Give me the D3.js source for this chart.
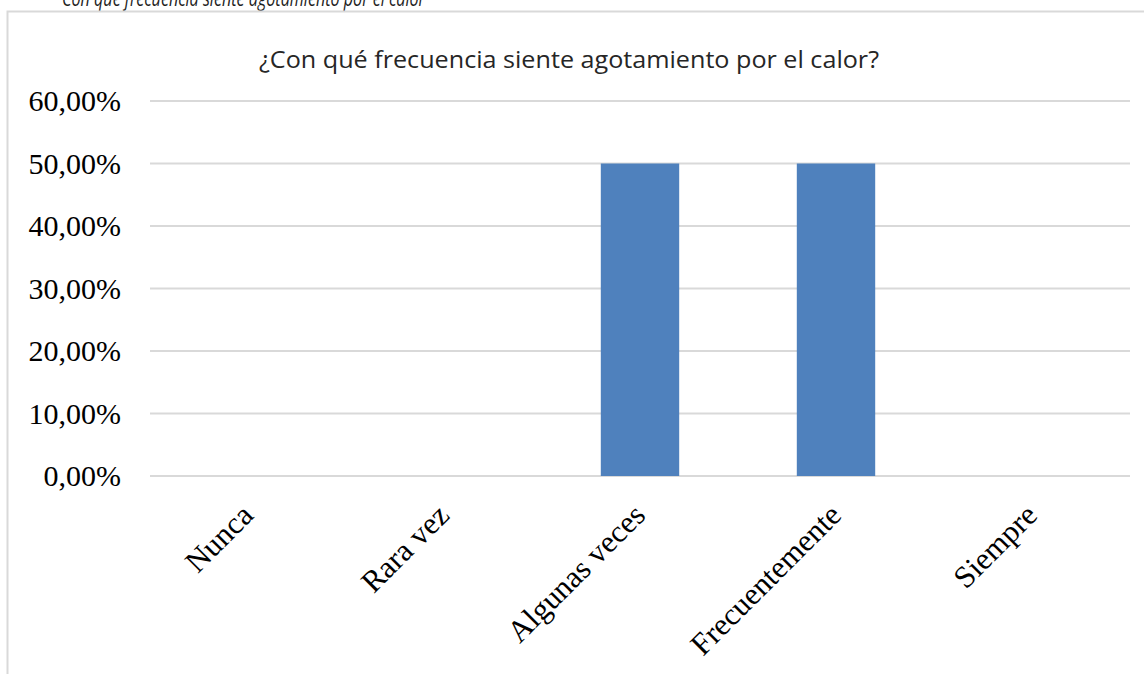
<!DOCTYPE html>
<html>
<head>
<meta charset="utf-8">
<script src="https://cdn.jsdelivr.net/npm/d3@7"></script>
<style>
  html, body { margin: 0; padding: 0; background: #fff; overflow: hidden; }
</style>
</head>
<body>
<svg id="chart" width="1144" height="674"></svg>
<script>
// Chart data
var categories = ["Nunca", "Rara vez", "Algunas veces", "Frecuentemente", "Siempre"];
var values     = [0, 0, 0.5, 0.5, 0];
var y_ticks    = [0, 0.1, 0.2, 0.3, 0.4, 0.5, 0.6];

var caption_text = "Con qué frecuencia siente agotamiento por el calor";
var title_text   = "¿Con qué frecuencia siente agotamiento por el calor?";

var svg = d3.select("#chart");

var PLOT_LEFT   = 150;
var PLOT_RIGHT  = 1130;
var PLOT_TOP    = 101;
var PLOT_BOTTOM = 476;

// Caption above the chart area (cut off by the page edge)
svg.append("text")
   .attr("x", 62)
   .attr("y", 6)
   .attr("font-family", "Open Sans, sans-serif")
   .attr("font-style", "italic")
   .attr("font-size", 22)
   .attr("textLength", 363)
   .attr("lengthAdjust", "spacingAndGlyphs")
   .attr("fill", "#1f1f1f")
   .text(caption_text);

// Chart area border, runs past the right and bottom page edges
svg.append("rect")
   .attr("x", 7.5)
   .attr("y", 11.5)
   .attr("width", 1200)
   .attr("height", 700)
   .attr("fill", "#fff")
   .attr("stroke", "#d9d9d9")
   .attr("stroke-width", 2);

svg.append("text")
   .attr("x", 569)
   .attr("y", 68)
   .attr("text-anchor", "middle")
   .attr("font-family", "Open Sans, sans-serif")
   .attr("font-size", 24)
   .attr("textLength", 620)
   .attr("lengthAdjust", "spacingAndGlyphs")
   .attr("fill", "#262626")
   .text(title_text);

var x = d3.scaleBand()
          .domain(categories)
          .range([PLOT_LEFT, PLOT_RIGHT])
          .paddingInner(0.6)
          .paddingOuter(0.3);

var y = d3.scaleLinear()
          .domain([0, 0.6])
          .range([PLOT_BOTTOM, PLOT_TOP]);

var fmt = function (d) {
  return d3.format(".2f")(d * 100).replace(".", ",") + "%";
};

// Gridlines
svg.append("g")
   .selectAll("line")
   .data(y_ticks)
   .enter().append("line")
   .attr("x1", PLOT_LEFT)
   .attr("x2", PLOT_RIGHT)
   .attr("y1", function (d) { return y(d); })
   .attr("y2", function (d) { return y(d); })
   .attr("stroke", "#d9d9d9")
   .attr("stroke-width", 2);

// Y axis labels
var y_axis = d3.axisLeft(y)
               .tickValues(y_ticks)
               .tickFormat(fmt)
               .tickSize(0)
               .tickPadding(29);

svg.append("g")
   .attr("transform", "translate(" + PLOT_LEFT + ",0)")
   .call(y_axis)
   .call(function (g) { g.select(".domain").remove(); })
   .selectAll("text")
   .attr("font-family", "Liberation Serif, Times New Roman, serif")
   .attr("font-size", 30)
   .attr("fill", "#000");

// Bars
svg.append("g")
   .selectAll("rect")
   .data(values)
   .enter().append("rect")
   .attr("x", function (d, i) { return x(categories[i]); })
   .attr("y", function (d) { return y(d); })
   .attr("width", x.bandwidth())
   .attr("height", function (d) { return PLOT_BOTTOM - y(d); })
   .attr("fill", "#4f81bd");

// X axis labels, rotated
var x_axis = d3.axisBottom(x).tickSize(0).tickPadding(0);

svg.append("g")
   .attr("transform", "translate(0," + PLOT_BOTTOM + ")")
   .call(x_axis)
   .call(function (g) { g.select(".domain").remove(); })
   .selectAll("text")
   .attr("font-family", "Liberation Serif, Times New Roman, serif")
   .attr("font-size", 31)
   .attr("fill", "#000")
   .attr("text-anchor", "end")
   .attr("dy", "0")
   .attr("y", 0)
   .attr("transform", "translate(7, 41) rotate(-45)");
</script>
</body>
</html>
